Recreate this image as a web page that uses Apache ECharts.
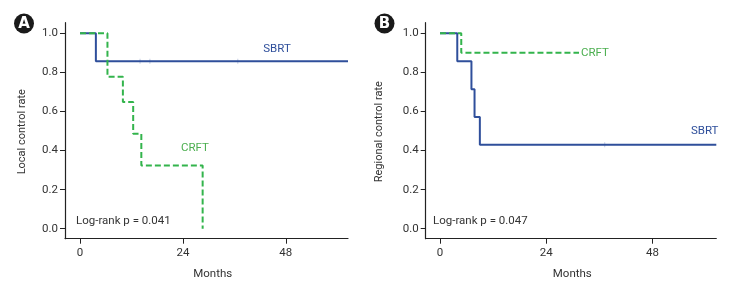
<!DOCTYPE html>
<html><head><meta charset="utf-8">
<script src="https://cdn.jsdelivr.net/npm/echarts@6/dist/echarts.min.js"></script>
<style>html,body{margin:0;padding:0;background:#fff}#c{width:729px;height:286px}</style>
</head><body><div id="c"></div>
<script>
// Panel A: local control (months, survival)
const aSBRT = [[0,1],[3.7,0.857],[62.5,0.857]];
const aCRFT = [[0,1],[6.4,0.778],[10.0,0.648],[12.4,0.486],[14.3,0.324],[28.6,0],[28.6,0]];
const aSBRTcensor = [[14,0.857],[16.3,0.857],[36.8,0.857]];
// Panel B: regional control
const bSBRT = [[0,1],[3.9,0.857],[7.1,0.714],[7.8,0.571],[9.0,0.429],[62.4,0.429]];
const bCRFT = [[0,1],[4.8,0.9],[31.4,0.9]];
const bSBRTcensor = [[37.2,0.429]];
const xTicks = [0,24,48];
const yTicks = [0,0.2,0.4,0.6,0.8,1.0];
const pA = 'Log-rank p = 0.041', pB = 'Log-rank p = 0.047';

const FONT = '"Roboto",sans-serif';
const BLUE = '#2f4f9b', GREEN = '#33b44c', TXT = '#333';

function xAx(idx, min, max){
  return {gridIndex: idx, type:'value', min, max,
    axisLine:{show:true,onZero:false,lineStyle:{color:'#222',width:1.2}},
    axisTick:{show:true,length:5,customValues:xTicks,lineStyle:{color:'#222'}},
    axisLabel:{customValues:xTicks,margin:8,color:TXT,fontSize:11.5,fontFamily:FONT},
    splitLine:{show:false}};
}
function yAx(idx){
  return {gridIndex: idx, type:'value', min:-0.051, max:1.054,
    axisLine:{show:true,onZero:false,lineStyle:{color:'#222',width:1.2}},
    axisTick:{show:true,length:5,customValues:yTicks,lineStyle:{color:'#222'}},
    axisLabel:{customValues:yTicks,margin:7,color:TXT,fontSize:11.5,fontFamily:FONT,formatter:v=>v.toFixed(1)},
    splitLine:{show:false}};
}
function line(idx,data,color,dashed){
  return {type:'line',xAxisIndex:idx,yAxisIndex:idx,data,step:'end',symbol:'none',
    lineStyle:{color,width:2,type:dashed?[6,3]:'solid'},z:dashed?3:2};
}
function cens(idx,data){
  return {type:'scatter',xAxisIndex:idx,yAxisIndex:idx,data,symbol:'rect',symbolSize:[1,5],
    itemStyle:{color:'rgba(47,79,155,0.35)'}};
}
function txt(x,y,t,color,size,extra){
  const o = {type:'text',x,y,style:{text:t,fill:color,font:size+'px '+FONT,textAlign:'center',textVerticalAlign:'middle'}};
  if (extra){ if (extra.align) o.style.textAlign = extra.align; if (extra.rotation) o.rotation = extra.rotation; }
  return o;
}
function badge(cx,cy,letter){
  return [{type:'circle',shape:{cx,cy,r:10},style:{fill:'#1a1a1a'}},
          {type:'text',x:cx,y:cy+0.5,style:{text:letter,fill:'#fff',font:'bold 15px "DejaVu Sans",sans-serif',textAlign:'center',textVerticalAlign:'middle'}}];
}
const chart = echarts.init(document.getElementById('c'),null,{renderer:'canvas'});
chart.setOption({
  animation:false,
  grid:[{left:65,top:22.7,width:283,height:216},{left:425.7,top:22.7,width:290.6,height:216}],
  xAxis:[xAx(0,-3.5,62.5),xAx(1,-3.23,62.4)],
  yAxis:[yAx(0),yAx(1)],
  series:[line(0,aSBRT,BLUE,false),line(0,aCRFT,GREEN,true),cens(0,aSBRTcensor),
          line(1,bSBRT,BLUE,false),line(1,bCRFT,GREEN,true),cens(1,bSBRTcensor)],
  graphic:[].concat(
    badge(24,23.5,'A'), badge(384.5,23.5,'B'),
    [txt(277,49.3,'SBRT',BLUE,11.5), txt(195,148.3,'CRFT','#4caf50',11.5),
     txt(76,220.7,pA,TXT,11.5,{align:'left'}),
     txt(704.7,131,'SBRT',BLUE,11.5), txt(595,52.7,'CRFT','#4caf50',11.5),
     txt(433,220.7,pB,TXT,11.5,{align:'left'}),
     txt(212.7,274,'Months',TXT,11.5), txt(572.3,274,'Months',TXT,11.5),
     txt(22,131.7,'Local control rate',TXT,11,{rotation:Math.PI/2}),
     txt(379,131.7,'Regional control rate',TXT,11,{rotation:Math.PI/2})
    ])
});
</script></body></html>
